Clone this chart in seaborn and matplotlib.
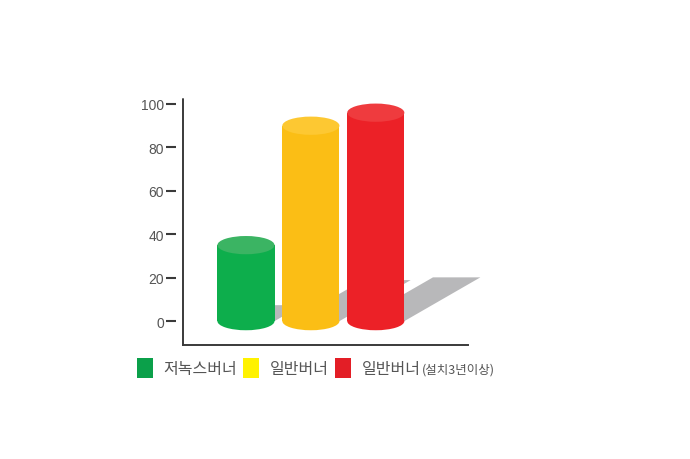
import numpy as np
import pandas as pd
import matplotlib
matplotlib.use("Agg")
import matplotlib.pyplot as plt
import seaborn as sns
from matplotlib.patches import Ellipse, Polygon, Patch

# ---- data ----
categories = ["저녹스버너", "일반버너", "일반버너(설치3년이상)"]
values = [35, 90, 96]
body_colors = ["#0DAE4C", "#FBBE15", "#EC2127"]
top_colors = ["#3BB463", "#FDC832", "#EF3B3E"]
legend_colors = ["#0BA04A", "#FFF200", "#E31E26"]
y_ticks = [0, 20, 40, 60, 80, 100]

sns.set_theme(style="white")
plt.rcParams["font.family"] = ["Noto Sans CJK KR", "DejaVu Sans"]

fig = plt.figure(figsize=(6.9, 4.6), dpi=100)
ax = fig.add_axes([0.2652, 0.2478, 0.4130, 0.5348])

df = pd.DataFrame({"cat": categories, "val": values})
bar_w = 0.88
ell_h = 8.4  # ellipse height in data units

# shadows (behind bars)
for i, v in enumerate(values):
    dx, dy = 0.0122 * v, 0.21 * v
    x0, x1 = i - bar_w / 2 + 0.15, i + bar_w / 2
    poly = Polygon([(x0, 0), (x1, 0), (x1 + dx, dy), (x0 + dx, dy)],
                   closed=True, facecolor="#B8B8BA", edgecolor="none",
                   zorder=1, clip_on=False)
    ax.add_patch(poly)

sns.barplot(data=df, x="cat", y="val", hue="cat", palette=body_colors,
            width=bar_w, legend=False, ax=ax, saturation=1, zorder=3)
for p in ax.patches:
    if not isinstance(p, Polygon):
        p.set_edgecolor("none")
        p.set_clip_on(False)

for i, v in enumerate(values):
    ax.add_patch(Ellipse((i, 0), bar_w, ell_h, facecolor=body_colors[i],
                         edgecolor="none", zorder=3, clip_on=False))
    ax.add_patch(Ellipse((i, v), bar_w, ell_h, facecolor=top_colors[i],
                         edgecolor="none", zorder=4, clip_on=False))

ax.set_xlim(-0.97, 3.42)
ax.set_ylim(-11, 102.3)
ax.set_xlabel("")
ax.set_ylabel("")
ax.set_xticks([])
ax.set_yticks(y_ticks)
ax.set_yticklabels([str(t) for t in y_ticks])

for s in ["top", "right"]:
    ax.spines[s].set_visible(False)
ax.spines["bottom"].set_color("#3a3a3a")
ax.spines["bottom"].set_linewidth(1.4)
ax.spines["left"].set_position(("outward", 5))
ax.spines["left"].set_visible(False)
ax.plot([0, 0], [0, 1], transform=ax.transAxes, color="#3a3a3a",
        lw=1.4, clip_on=False, zorder=5)
ax.tick_params(axis="y", direction="out", length=7, width=1.5,
               color="#3a3a3a", pad=1.5, labelsize=10, labelcolor="#555555",
               left=True)
for lab in ax.get_yticklabels():
    lab.set_family(["Liberation Sans", "DejaVu Sans"])

# legend: main part of each label; parenthetical note drawn smaller after it
main_labels = [c.split("(")[0] for c in categories]
notes = ["(" + c.split("(", 1)[1] if "(" in c else "" for c in categories]
handles = [Patch(facecolor=c, edgecolor="none") for c in legend_colors]
leg = fig.legend(handles, main_labels, loc="center left",
                 bbox_to_anchor=(0.198, 0.198), ncol=3, frameon=False,
                 fontsize=11.5, handlelength=1.0, handleheight=1.6,
                 handletextpad=0.7, columnspacing=0.35, borderpad=0,
                 borderaxespad=0)
for t in leg.get_texts():
    t.set_color("#555555")
fig.canvas.draw()
for t, note in zip(leg.get_texts(), notes):
    if note:
        fig.add_artist(plt.Annotation(note, xy=(1, 0.5), xycoords=t,
                                      xytext=(0.5, 0), textcoords="offset points",
                                      ha="left", va="center", fontsize=9,
                                      color="#555555"))

fig.savefig("out.png", dpi=100, facecolor="white")
